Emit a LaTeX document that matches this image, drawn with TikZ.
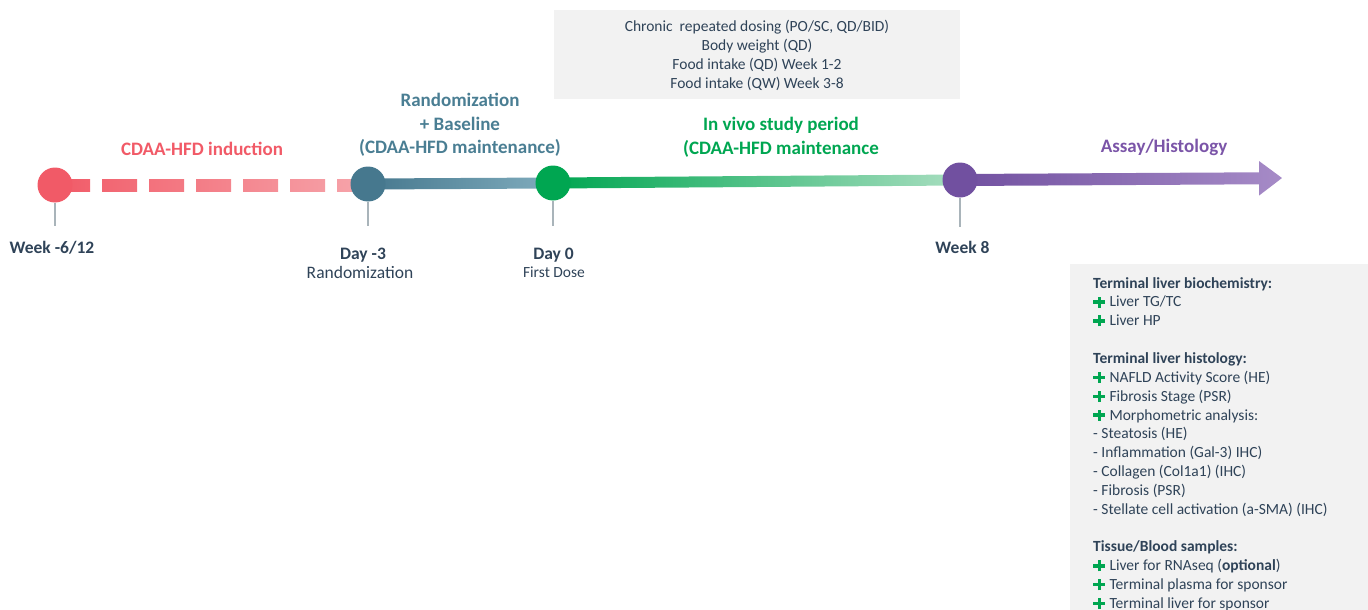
\documentclass[tikz,border=0pt]{standalone}
\usepackage{fontspec}
\setmainfont{Carlito}
\usetikzlibrary{calc}
\definecolor{redA}{HTML}{F15A67}
\definecolor{redB}{HTML}{F6A5AB}
\definecolor{blueA}{HTML}{46788E}
\definecolor{blueB}{HTML}{80ACBD}
\definecolor{greenA}{HTML}{00A651}
\definecolor{greenB}{HTML}{A8DEC0}
\definecolor{purpA}{HTML}{7150A0}
\definecolor{purpB}{HTML}{A68BC7}
\definecolor{darktext}{HTML}{2F4358}
\definecolor{bluetext}{HTML}{4A7E93}
\definecolor{greentext}{HTML}{00A651}
\definecolor{purptext}{HTML}{7B55A8}
\definecolor{boxgray}{HTML}{F2F2F2}
\definecolor{tickgray}{HTML}{A9B4BA}
\definecolor{plusgreen}{HTML}{00A651}
\newcommand{\plusmark}{{\color{plusgreen}\rlap{\rule[3.2pt]{12pt}{3.4pt}}\hspace*{4.3pt}\rule[-0.6pt]{3.4pt}{11pt}\hspace*{4.3pt}}\hspace*{4.3pt}}
\pgfdeclarelayer{bg}
\pgfsetlayers{bg,main}
\begin{document}
\begin{tikzpicture}[x=1pt,y=-1pt,
  dot/.style={circle, minimum size=35pt, inner sep=0pt, fill=#1},
  tickline/.style={draw=tickgray, line width=1.5pt},
  big/.style={font=\fontsize{19}{23.5}\selectfont\bfseries, inner sep=0pt, align=center},
  datelbl/.style={font=\fontsize{17.5}{21}\selectfont\bfseries, text=darktext, inner sep=0pt, anchor=base},
  sublbl/.style={text=darktext, inner sep=0pt, anchor=base},
  info/.style={font=\fontsize{15.5}{18.85}\selectfont, text=darktext, inner sep=0pt}
]
\useasboundingbox (0,0) rectangle (1368,610);

% grey boxes
\fill[boxgray] (554,10) rectangle (960,99);
\fill[boxgray] (1070,264) rectangle (1368,610);

% milestone dots
\node[dot=redA] (r) at (55,185) {};
\node[dot=blueA] (b) at (368,184) {};
\node[dot=greenA] (g) at (553,183) {};
\node[dot=purpA] (p) at (960,180) {};
\coordinate (tip) at (1282,178);
\coordinate (headbase) at (1259,178.3);
\coordinate (tickend) at (0,226);

\begin{pgfonlayer}{bg}
  % dashed red induction line
  \foreach \i in {0,...,6}{
    \pgfmathsetmacro\xa{55+47*\i}
    \pgfmathsetmacro\xb{min(\xa+35,368)}
    \pgfmathtruncatemacro\pa{100-((\xa-55)/3.13)}
    \pgfmathtruncatemacro\pb{100-((\xb-55)/3.13)}
    \shade[left color=redA!\pa!redB, right color=redA!\pb!redB] (\xa,179) rectangle (\xb,191);
  }
  % blue segment
  \shade[left color=blueA, right color=blueB]
    ($(b)+(0,-5.5)$) -- ($(g)+(0,-5.5)$) -- ($(g)+(0,5.5)$) -- ($(b)+(0,5.5)$) -- cycle;
  % green segment
  \shade[left color=greenA, right color=greenB]
    ($(g)+(0,-5.5)$) -- ($(p)+(0,-5.5)$) -- ($(p)+(0,5.5)$) -- ($(g)+(0,5.5)$) -- cycle;
  % purple arrow
  \shade[left color=purpA, right color=purpB]
    ($(p)+(0,-6)$) -- ($(headbase)+(0,-6)$) -- ($(headbase)+(0,-17.3)$) -- (tip)
    -- ($(headbase)+(0,17.3)$) -- ($(headbase)+(0,6)$) -- ($(p)+(0,6)$) -- cycle;
  % ticks
  \draw[tickline] (r.south) -- (r |- tickend);
  \draw[tickline] (b.south) -- (b |- tickend);
  \draw[tickline] (g.south) -- (g |- tickend);
  \draw[tickline] (p.south) -- ($(p |- tickend)+(0,1)$);
\end{pgfonlayer}

% period labels
\node[big, text=redA] (lind) at (202,149) {CDAA-HFD induction};
\node[big, text=bluetext] (lrand) at (460,125) {Randomization\\+ Baseline\\(CDAA-HFD maintenance)};
\node[big, text=greentext] (lvivo) at (781,137.5) {In vivo study period\\(CDAA-HFD maintenance};
\node[big, text=purptext] (lassay) at (1164,147) {Assay/Histology};

% date labels
\node[datelbl] (d1) at (52,253) {Week -6/12};
\node[datelbl] (d2) at (363,259) {Day -3};
\node[sublbl, font=\fontsize{17.5}{21}\selectfont] (d2s) at (360,278) {Randomization};
\node[datelbl] (d3) at (553.5,259) {Day 0};
\node[sublbl, font=\fontsize{15.5}{18}\selectfont] (d3s) at (554,277) {First Dose};
\node[datelbl] (d4) at (962.5,253) {Week 8};

% dosing box text
\node[info, align=center, font=\fontsize{15.5}{18.8}\selectfont] (dosing) at (757,55.5) {Chronic\ \ repeated dosing (PO/SC, QD/BID)\\Body weight (QD)\\Food intake (QD) Week 1-2\\Food intake (QW) Week 3-8};

% terminal readouts
\node[info, align=left, anchor=north west] (readout) at (1093,277) {%
\textbf{Terminal liver biochemistry:}\\
\plusmark Liver TG/TC\\
\plusmark Liver HP\\
\mbox{}\\
\textbf{Terminal liver histology:}\\
\plusmark NAFLD Activity Score (HE)\\
\plusmark Fibrosis Stage (PSR)\\
\plusmark Morphometric analysis:\\
- Steatosis (HE)\\
- Inflammation (Gal-3) IHC)\\
- Collagen (Col1a1) (IHC)\\
- Fibrosis (PSR)\\
- Stellate cell activation (a-SMA) (IHC)\\
\mbox{}\\
\textbf{Tissue/Blood samples:}\\
\plusmark Liver for RNAseq (\textbf{optional})\\
\plusmark Terminal plasma for sponsor\\
\plusmark Terminal liver for sponsor};
\end{tikzpicture}
\end{document}
